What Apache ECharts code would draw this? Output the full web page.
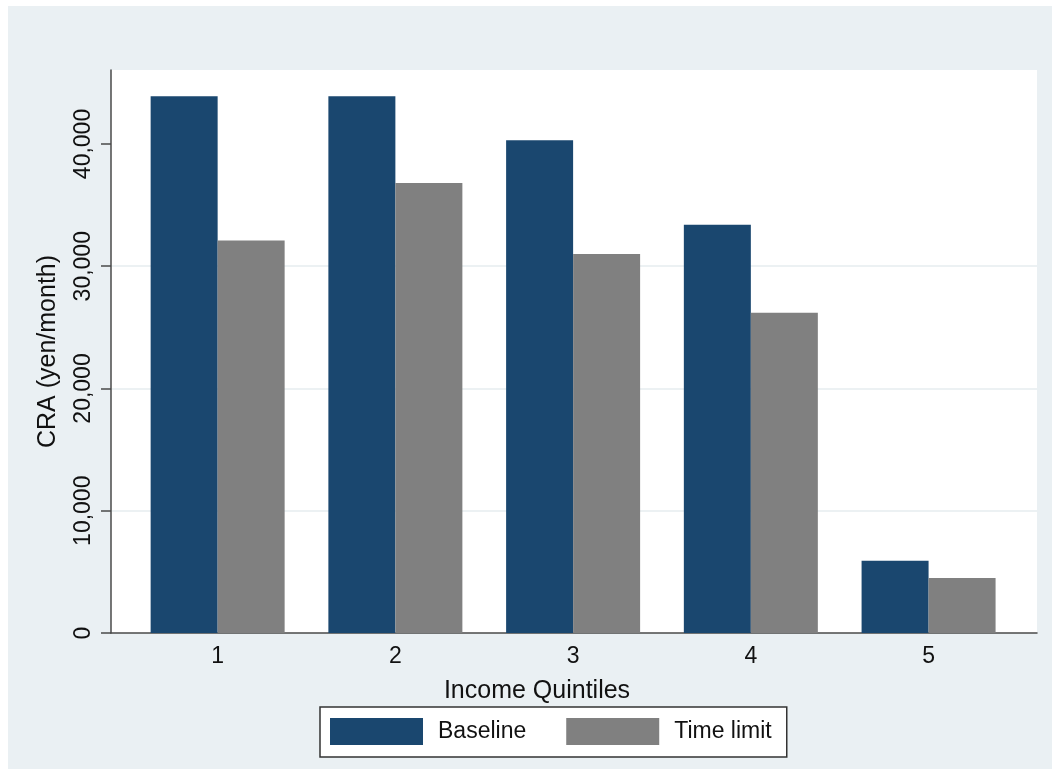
<!DOCTYPE html>
<html>
<head>
<meta charset="utf-8">
<script src="https://cdn.jsdelivr.net/npm/echarts@6/dist/echarts.min.js"></script>
<style>
    html, body { margin: 0; padding: 0; background: #fff; }
    #chart {
        position: absolute;
        left: 8px;
        top: 6px;
        width: 1044px;
        height: 763px;
    }
</style>
</head>
<body>
<div id="chart"></div>
<script>
// 收入五分位
const quintiles = [1, 2, 3, 4, 5];
// CRA (yen/month)
const baseline = [43900, 43900, 40300, 33400, 5900];
const timeLimit = [32100, 36800, 31000, 26200, 4500];
const yTicks = [0, 10000, 20000, 30000, 40000];
const legendNames = ['Baseline', 'Time limit'];

const font = '"Liberation Sans", Arial, sans-serif';
const axisColor = '#4a4a4a';

const chart = echarts.init(document.getElementById('chart'));

let option = {
    backgroundColor: '#eaf0f3',
    animation: false,
    color: ['#1a476f', '#808080'],
    textStyle: { fontFamily: font, color: '#111' },
    grid: {
        left: 103,
        top: 64,
        width: 926,
        height: 563,
        show: true,
        backgroundColor: '#fff',
        borderWidth: 0
    },
    legend: {
        data: legendNames,
        left: 312,
        top: 701,
        orient: 'horizontal',
        itemWidth: 93,
        itemHeight: 27,
        itemGap: 40,
        padding: [11, 15, 12, 10],
        backgroundColor: '#fff',
        borderColor: '#333',
        borderWidth: 1.5,
        borderRadius: 0,
        icon: 'rect',
        textStyle: {
            fontFamily: font,
            fontSize: 23,
            color: '#111',
            padding: [0, 0, 0, 10]
        }
    },
    xAxis: {
        type: 'value',
        min: 0.4,
        max: 5.61,
        name: 'Income Quintiles',
        nameLocation: 'middle',
        nameGap: 46,
        nameTextStyle: {
            fontFamily: font,
            fontSize: 25,
            color: '#111',
            padding: [0, 74, 0, 0]
        },
        axisLine: {
            show: true,
            onZero: false,
            lineStyle: { color: axisColor, width: 1.5 }
        },
        axisTick: { show: false },
        axisLabel: {
            customValues: quintiles,
            fontSize: 23,
            color: '#111',
            margin: 12,
            formatter: (v) => String(v)
        },
        splitLine: { show: false }
    },
    yAxis: {
        type: 'value',
        min: 0,
        max: 46050,
        name: 'CRA (yen/month)',
        nameLocation: 'middle',
        nameGap: 50,
        nameTextStyle: {
            fontFamily: font,
            fontSize: 25,
            color: '#111'
        },
        axisLine: {
            show: true,
            lineStyle: { color: axisColor, width: 1.5 }
        },
        axisTick: {
            show: true,
            customValues: yTicks,
            length: 10,
            lineStyle: { color: axisColor, width: 1.5 }
        },
        axisLabel: {
            customValues: yTicks,
            rotate: 90,
            fontSize: 23,
            color: '#111',
            margin: 16,
            formatter: (v) => v.toLocaleString('en-US')
        },
        splitLine: {
            show: true,
            showMinLine: false,
            showMaxLine: false,
            lineStyle: { color: '#e6ecef', width: 1.5 }
        }
    },
    series: [
        {
            name: legendNames[0],
            type: 'bar',
            barWidth: 67,
            barGap: '0%',
            data: quintiles.map((q, i) => [q, baseline[i]])
        },
        {
            name: legendNames[1],
            type: 'bar',
            barWidth: 67,
            barGap: '0%',
            data: quintiles.map((q, i) => [q, timeLimit[i]])
        }
    ]
};

chart.setOption(option);
</script>
</body>
</html>
